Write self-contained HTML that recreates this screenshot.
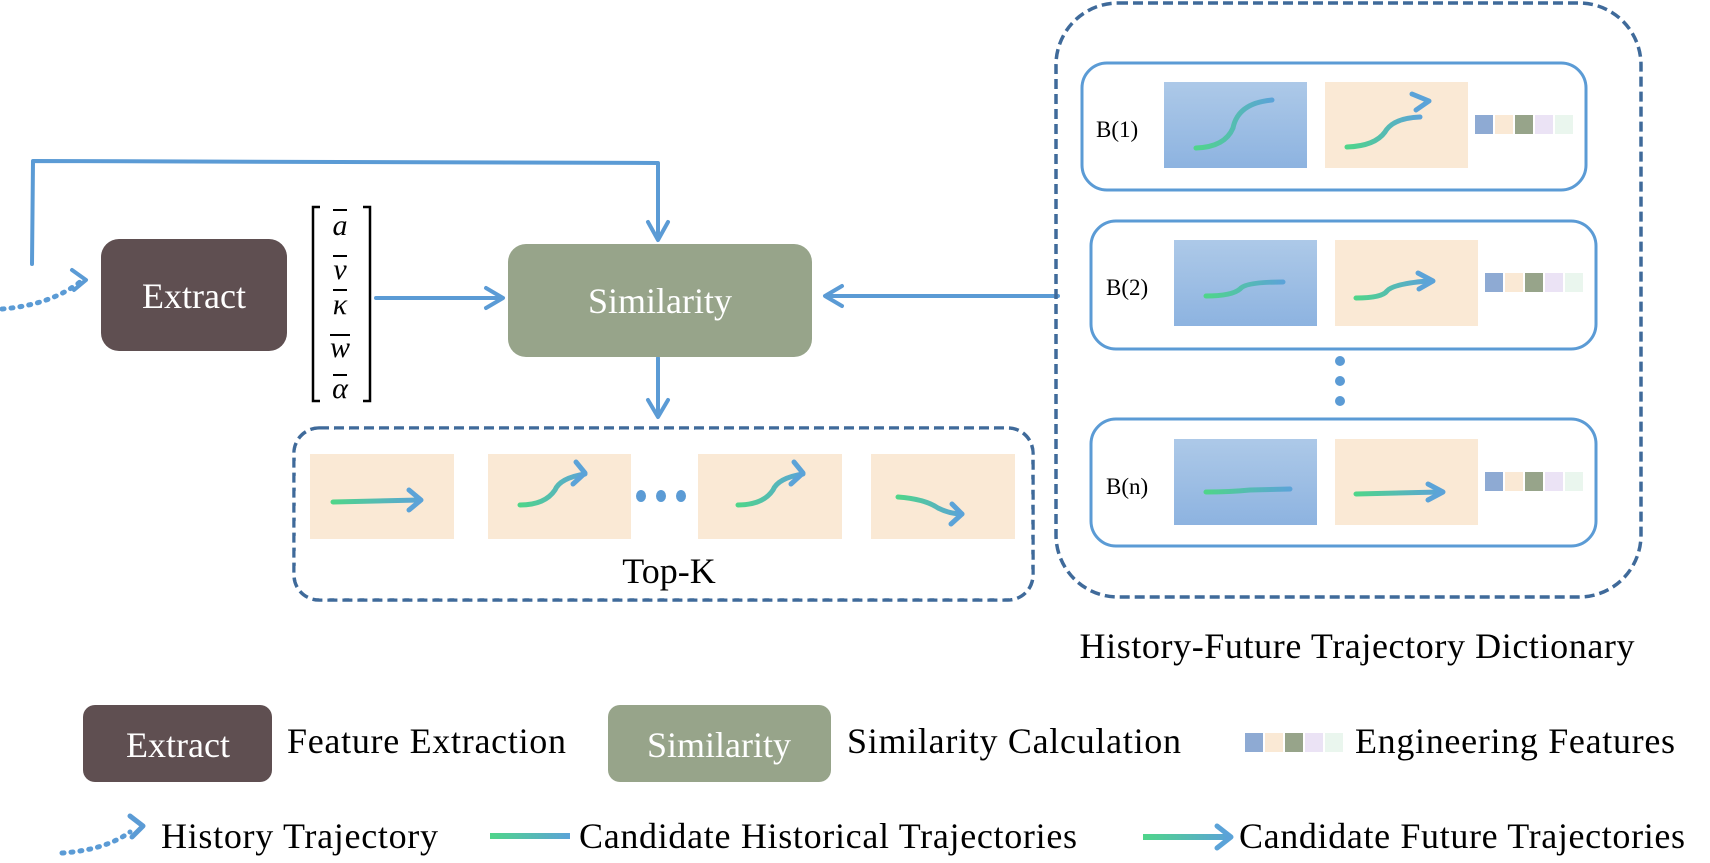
<!DOCTYPE html>
<html><head><meta charset="utf-8"><style>
html,body{margin:0;padding:0;background:#fff;}
svg{display:block;}
text{font-family:"Liberation Serif",serif;}
</style></head><body>
<svg width="1710" height="863" viewBox="0 0 1710 863" xmlns="http://www.w3.org/2000/svg">
<defs>
<linearGradient id="tr" x1="0" x2="1" y1="0" y2="0"><stop offset="0" stop-color="#4fd58a"/><stop offset="1" stop-color="#5ba3d8"/></linearGradient>
<linearGradient id="bl" x1="0" x2="0" y1="0" y2="1"><stop offset="0" stop-color="#adc9e8"/><stop offset="1" stop-color="#8db3e0"/></linearGradient>
<g id="feat"><rect x="0" y="0" width="18" height="19" fill="#8eaad3"/><rect x="20" y="0" width="18" height="19" fill="#fae9d5"/><rect x="40" y="0" width="18" height="19" fill="#97a48a"/><rect x="60" y="0" width="18" height="19" fill="#ebe3f5"/><rect x="80" y="0" width="18" height="19" fill="#eaf6ee"/></g>
</defs>
<g fill="none" stroke="#5b9bd5" stroke-width="4" stroke-linecap="round" stroke-linejoin="round">
<polyline points="32,264 33,161 658,163 658,238"/>
<polyline points="648,222 658,240 668,222"/>
<line x1="376" y1="298" x2="502" y2="298"/>
<polyline points="486,288 503,298 486,308"/>
<line x1="1058" y1="296" x2="826" y2="296"/>
<polyline points="842,286 825,296 842,306"/>
<line x1="658" y1="358" x2="658" y2="416"/>
<polyline points="648,400 658,417 668,400"/>
<path d="M2,309 Q50,305 80,282" stroke-dasharray="2 7" stroke-width="5"/>
<polyline points="72,270 86,280 74,290"/>
</g>
<rect x="101" y="239" width="186" height="112" rx="18" fill="#5f4f51"/>
<text x="194" y="308" font-size="36" fill="#fff" text-anchor="middle">Extract</text>
<g stroke="#000" stroke-width="2.5" fill="none">
<polyline points="320,207 313,207 313,401 320,401"/>
<polyline points="363,207 370,207 370,401 363,401"/>
</g>
<g font-size="30" font-style="italic" text-anchor="middle" fill="#000">
<text x="340" y="235">a</text><text x="340" y="279">v</text><text x="340" y="314">κ</text><text x="340" y="357">w</text><text x="340" y="398">α</text>
</g>
<g stroke="#000" stroke-width="2">
<line x1="333" y1="210" x2="347" y2="210"/><line x1="333" y1="256" x2="347" y2="256"/><line x1="333" y1="290" x2="347" y2="290"/><line x1="330" y1="335" x2="350" y2="335"/><line x1="333" y1="375" x2="347" y2="375"/>
</g>
<rect x="508" y="244" width="304" height="113" rx="18" fill="#97a48a"/>
<text x="660" y="313" font-size="36" fill="#fff" text-anchor="middle">Similarity</text>
<rect x="294" y="428" width="739" height="172" rx="25" fill="none" stroke="#3f6a9a" stroke-width="3.5" stroke-dasharray="10 5"/>
<rect x="296" y="430" width="735" height="168" rx="24" fill="none" stroke="#fff" stroke-width="1" stroke-dasharray="10 5"/>
<g fill="#fae9d5">
<rect x="310" y="454" width="144" height="85"/><rect x="488" y="454" width="143" height="85"/><rect x="698" y="454" width="144" height="85"/><rect x="871" y="454" width="144" height="85"/>
</g>
<g fill="none" stroke="url(#tr)" stroke-width="5" stroke-linecap="round">
<path d="M333,502 L420,500"/>
<path d="M520,505 Q545,505 555,490 Q560,478 585,474"/>
<path d="M738,505 Q763,505 773,490 Q778,478 803,474"/>
<path d="M898,497 Q925,499 938,508 Q950,514 962,514"/>
</g>
<g fill="none" stroke="#5ba3d8" stroke-width="5" stroke-linecap="round" stroke-linejoin="round">
<polyline points="409,490 421,500 409,510"/>
<polyline points="576,462 585,473 573,484"/>
<polyline points="794,462 803,473 791,484"/>
<polyline points="952,504 962,514 951,524"/>
</g>
<g fill="#5b9bd5"><ellipse cx="641" cy="496" rx="5" ry="6"/><ellipse cx="661" cy="496" rx="5" ry="6"/><ellipse cx="681" cy="496" rx="5" ry="6"/></g>
<text x="669" y="583" font-size="36" text-anchor="middle">Top-K</text>
<rect x="1056" y="3" width="585" height="594" rx="62" fill="none" stroke="#3f6a9a" stroke-width="3.5" stroke-dasharray="10 5"/>
<g fill="none" stroke="#5b9bd5" stroke-width="3">
<rect x="1082" y="63" width="504" height="127" rx="25"/>
<rect x="1091" y="221" width="505" height="128" rx="25"/>
<rect x="1091" y="419" width="505" height="127" rx="25"/>
</g>
<g font-size="23">
<text x="1096" y="137">B(1)</text><text x="1106" y="295">B(2)</text><text x="1106" y="494">B(n)</text>
</g>
<g fill="url(#bl)">
<rect x="1164" y="82" width="143" height="86"/><rect x="1174" y="240" width="143" height="86"/><rect x="1174" y="439" width="143" height="86"/>
</g>
<g fill="#fae9d5">
<rect x="1325" y="82" width="143" height="86"/><rect x="1335" y="240" width="143" height="86"/><rect x="1335" y="439" width="143" height="86"/>
</g>
<g fill="none" stroke="url(#tr)" stroke-width="5" stroke-linecap="round">
<path d="M1196,148 Q1225,147 1233,128 Q1238,103 1272,100"/>
<path d="M1347,147 Q1375,146 1385,132 Q1393,118 1420,117"/>
<path d="M1206,296 Q1232,296 1240,289 Q1245,282 1283,282"/>
<path d="M1356,298 Q1382,298 1387,291 Q1393,284 1427,281"/>
<path d="M1206,492 Q1230,492 1250,490 L1290,489"/>
<path d="M1356,494 L1440,492"/>
</g>
<g fill="none" stroke="#5ba3d8" stroke-width="5" stroke-linecap="round" stroke-linejoin="round">
<polyline points="1412,94 1429,101 1416,110"/>
<polyline points="1418,273 1433,281 1419,289"/>
<polyline points="1428,484 1443,492 1428,500"/>
</g>
<use href="#feat" x="1475" y="115"/><use href="#feat" x="1485" y="273"/><use href="#feat" x="1485" y="472"/>
<g fill="#5b9bd5"><ellipse cx="1340" cy="361" rx="5" ry="5"/><ellipse cx="1340" cy="381" rx="5" ry="5"/><ellipse cx="1340" cy="401" rx="5" ry="5"/></g>
<text x="1357" y="658" font-size="36" text-anchor="middle" textLength="555">History-Future Trajectory Dictionary</text>
<rect x="83" y="705" width="189" height="77" rx="12" fill="#5f4f51"/>
<text x="178" y="757" font-size="36" fill="#fff" text-anchor="middle">Extract</text>
<text x="287" y="753" font-size="36" textLength="279">Feature Extraction</text>
<rect x="608" y="705" width="223" height="77" rx="12" fill="#97a48a"/>
<text x="719" y="757" font-size="36" fill="#fff" text-anchor="middle">Similarity</text>
<text x="847" y="753" font-size="36" textLength="334">Similarity Calculation</text>
<use href="#feat" x="1245" y="733"/>
<text x="1355" y="753" font-size="36" textLength="320">Engineering Features</text>
<g fill="none" stroke="#5b9bd5" stroke-width="5" stroke-linecap="round" stroke-linejoin="round">
<path d="M62,853 Q105,850 130,832" stroke-dasharray="2 7"/>
<polyline points="130,816 143,826 132,837"/>
</g>
<text x="161" y="848" font-size="36" textLength="277">History Trajectory</text>
<rect x="490" y="833" width="80" height="6" fill="url(#tr)"/>
<text x="579" y="848" font-size="36" textLength="498">Candidate Historical Trajectories</text>
<rect x="1143" y="834" width="87" height="6" fill="url(#tr)"/>
<polyline points="1217,826 1231,837 1217,848" fill="none" stroke="#5ba3d8" stroke-width="5" stroke-linecap="round" stroke-linejoin="round"/>
<text x="1239" y="848" font-size="36" textLength="446">Candidate Future Trajectories</text>
</svg>
</body></html>
